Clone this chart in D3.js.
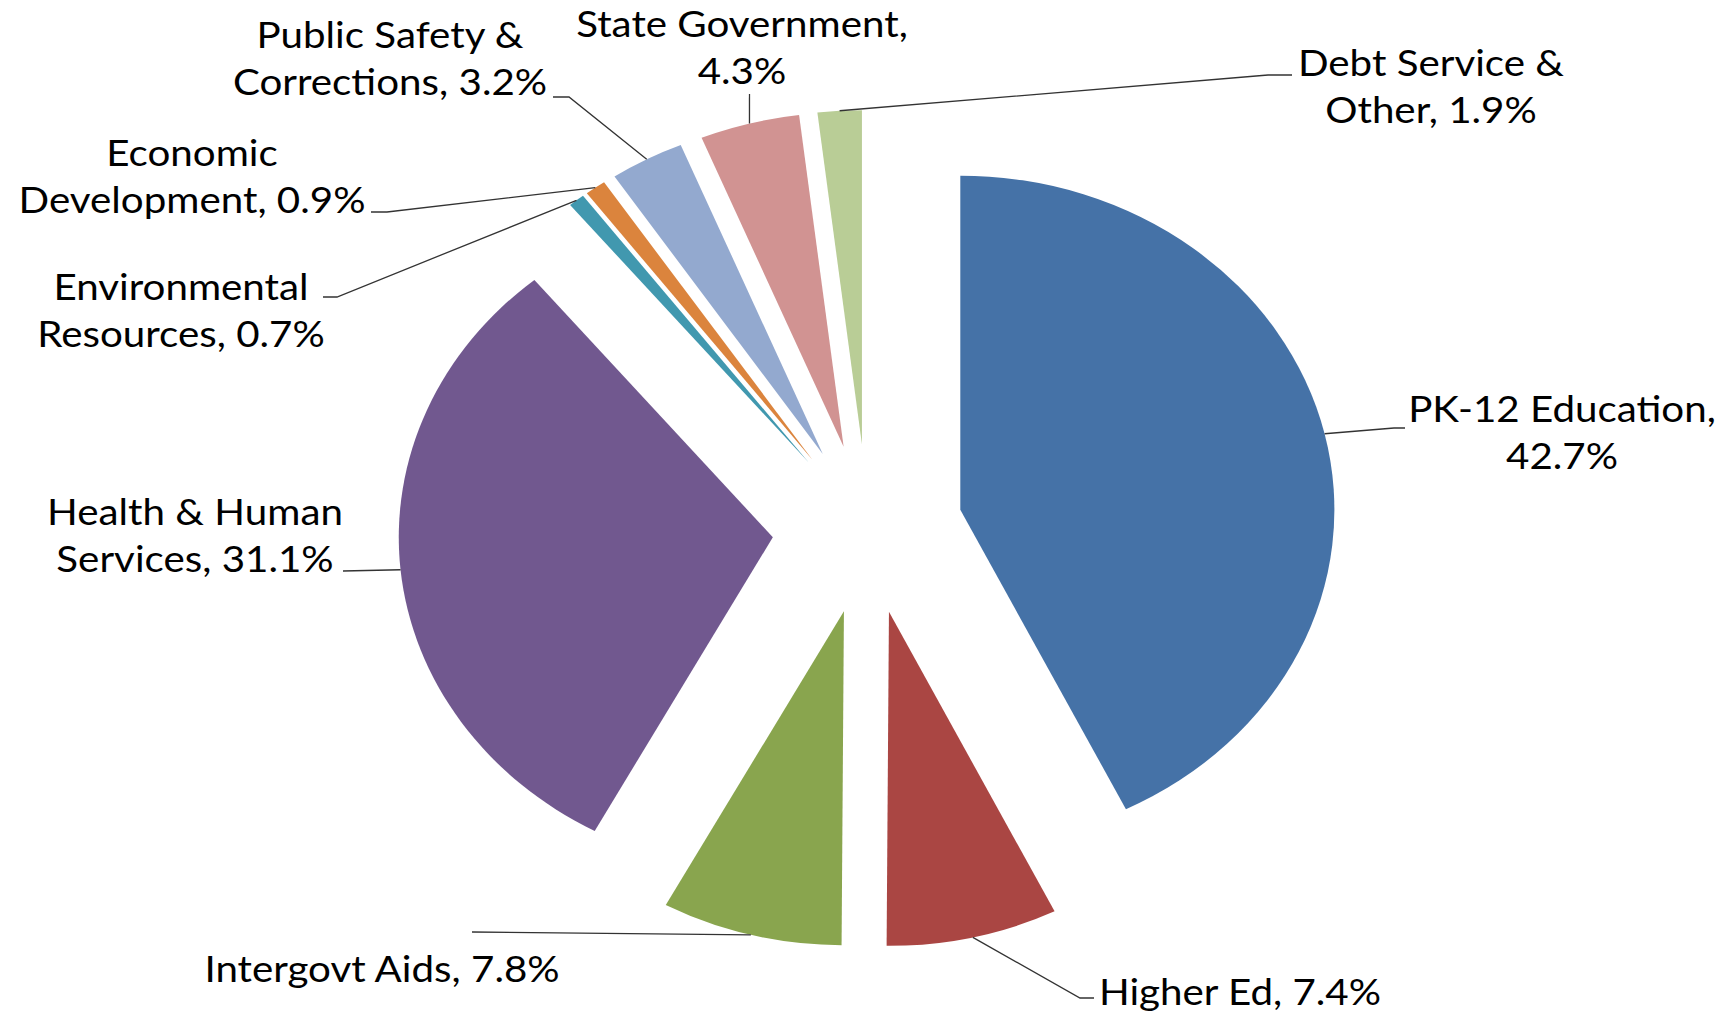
<!DOCTYPE html>
<meta charset="utf-8">
<style>
    body { margin: 0; background: #fff; }
    .lbl { font-family: Lato, "Noto Sans", sans-serif; font-size: 36px; fill: #000; }
    .leader { fill: none; stroke: #333; stroke-width: 1.3; }
</style>
<body>
<script src="https://d3js.org/d3.v7.min.js"></script>
<svg width="1733" height="1013"></svg>
<script>
    // data, clockwise from 12 o'clock
    var categories = ["PK-12 Education", "Higher Ed", "Intergovt Aids", "Health & Human Services",
        "Environmental Resources", "Economic Development", "Public Safety & Corrections",
        "State Government", "Debt Service & Other"];
    var shares = [42.7, 7.4, 7.8, 31.1, 0.7, 0.9, 3.2, 4.3, 1.9];
    var labelLines = [
        ["PK-12 Education,", "42.7%"],
        ["Higher Ed, 7.4%"],
        ["Intergovt Aids, 7.8%"],
        ["Health & Human", "Services, 31.1%"],
        ["Environmental", "Resources, 0.7%"],
        ["Economic", "Development, 0.9%"],
        ["Public Safety &", "Corrections, 3.2%"],
        ["State Government,", "4.3%"],
        ["Debt Service &", "Other, 1.9%"]
    ];
    var colors = ["#4572A7", "#AA4643", "#89A54E", "#71588F", "#4198AF", "#DB843D", "#93A9CF", "#D19392", "#B9CD96"];

    // layout of the labels (first line centre) and leader bends
    var labelPos = [[1562, 409], [1240, 992], [382, 969], [195, 512], [181, 287], [192, 153], [390, 35], [742, 24], [1431, 63]];
    var leaderPts = [
        [[1394, 428], [1405, 428]],
        [[1080, 998], [1094, 998]],
        [[472, 932]],
        [[343, 571]],
        [[337, 297], [323, 297]],
        [[387, 212], [371, 212]],
        [[569, 97], [553, 97]],
        [[749.5, 94]],
        [[1268, 75], [1292, 75]]
    ];

    var svg = d3.select("svg"),
        cx = 867.6,
        cy = 529,
        sx = 1.12,       // the original picture is stretched sideways
        radius = 334,
        explode = 85,
        lineH = 47;

    var pie = d3.pie().sort(null).value(function(d) { return d; });
    var arc = d3.arc().innerRadius(0).outerRadius(radius);
    var arcs = pie(shares);

    function mid(d) { return (d.startAngle + d.endAngle) / 2; }

    var g = svg.append("g")
        .attr("transform", "translate(" + cx + "," + cy + ") scale(" + sx + ",1)");

    g.selectAll("path")
        .data(arcs)
        .enter().append("path")
        .attr("d", arc)
        .attr("fill", function(d, i) { return colors[i]; })
        .attr("transform", function(d) {
            var a = mid(d);
            return "translate(" + (explode * Math.sin(a)) + "," + (-explode * Math.cos(a)) + ")";
        });

    // leader lines from the outer edge of each slice
    var line = d3.line();
    svg.selectAll(".leader")
        .data(arcs)
        .enter().append("path")
        .attr("class", "leader")
        .attr("d", function(d, i) {
            var a = mid(d), rr = radius + explode;
            var start = [cx + sx * rr * Math.sin(a), cy - rr * Math.cos(a)];
            return line([start].concat(leaderPts[i]));
        });

    // labels get the same sideways stretch as the pie
    var labels = svg.selectAll(".lbl")
        .data(arcs)
        .enter().append("text")
        .attr("class", "lbl")
        .attr("text-anchor", "middle")
        .attr("transform", function(d, i) {
            return "translate(" + labelPos[i][0] + "," + labelPos[i][1] + ") scale(" + sx + ",1)";
        });

    labels.each(function(d, i) {
        var t = d3.select(this);
        labelLines[i].forEach(function(s, k) {
            t.append("tspan")
                .attr("x", 0)
                .attr("y", k * lineH)
                .attr("dy", "0.35em")
                .text(s);
        });
    });
</script>
</body>
